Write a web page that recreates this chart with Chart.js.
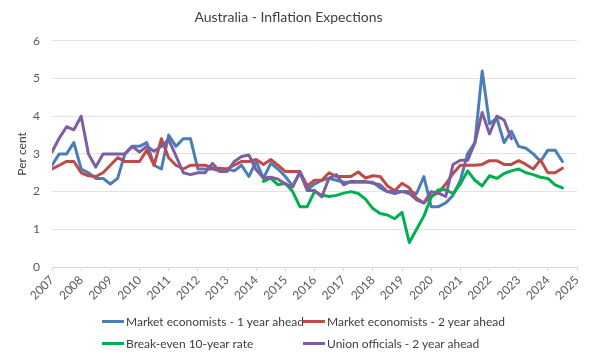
<!DOCTYPE html>
<html>
<head>
<meta charset="utf-8">
<script src="https://cdn.jsdelivr.net/npm/chart.js@4"></script>
<style>
  html, body { margin: 0; padding: 0; background: #fff; }
  #wrap { position: relative; width: 600px; height: 360px; }
  #legend { position: absolute; left: 0; top: 0; font-family: Lato, sans-serif; font-size: 12px; color: #404040; }
  .item { position: absolute; display: flex; align-items: center; white-space: nowrap; height: 16px; }
  .swatch { width: 22px; height: 3px; margin-right: 2px; }
</style>
</head>
<body>
<div id="wrap">
  <canvas id="chart" width="600" height="360"></canvas>
  <div id="legend"></div>
</div>
<script>
// ===============================
// DATA (quarterly, 2007 Q1 .. 2024 Q3)
// ===============================
const title = "Australia - Inflation Expections";
const yTitle = "Per cent";
const yearTicks = [2007, 2008, 2009, 2010, 2011, 2012, 2013, 2014, 2015, 2016,
  2017, 2018, 2019, 2020, 2021, 2022, 2023, 2024, 2025];
const yTicks = [0, 1, 2, 3, 4, 5, 6];

const seriesNames = [
  "Market economists - 1 year ahead",
  "Market economists - 2 year ahead",
  "Break-even 10-year rate",
  "Union officials - 2 year ahead"
];
const seriesColors = ["#4a7ebb", "#be4b48", "#00b050", "#7d5fa0"];

const marketOneYear = [
  2.7, 3.0, 3.0, 3.3, 2.6, 2.5, 2.35, 2.35, 2.2, 2.35,
  3.0, 3.2, 3.2, 3.3, 2.7, 2.6, 3.5, 3.2, 3.4, 3.4,
  2.6, 2.6, 2.6, 2.55, 2.6, 2.55, 2.7, 2.4, 2.8, 2.35,
  2.75, 2.6, 2.4, 2.15, 2.5, 2.05, 2.2, 2.3, 2.35, 2.3,
  2.25, 2.25, 2.25, 2.25, 2.25, 2.1, 2.0, 1.95, 2.0, 2.0,
  1.95, 2.4, 1.6, 1.6, 1.7, 1.9, 2.3, 3.0, 3.3, 5.2,
  3.8, 3.95, 3.3, 3.6, 3.2, 3.15, 3.0, 2.8, 3.1, 3.1,
  2.8
];
const marketTwoYear = [
  2.6, 2.7, 2.8, 2.8, 2.5, 2.42, 2.4, 2.5, 2.7, 2.9,
  2.8, 2.8, 2.8, 3.1, 2.7, 3.4, 2.9, 2.7, 2.6, 2.7,
  2.7, 2.7, 2.62, 2.62, 2.6, 2.7, 2.8, 2.8, 2.85, 2.72,
  2.85, 2.7, 2.53, 2.53, 2.53, 2.15, 2.3, 2.3, 2.5, 2.4,
  2.4, 2.4, 2.52, 2.36, 2.42, 2.4, 2.15, 2.02, 2.22, 2.1,
  1.82, 1.7, 1.88, 1.97, 2.2, 2.48, 2.7, 2.7, 2.7, 2.72,
  2.82, 2.82, 2.72, 2.72, 2.82, 2.72, 2.6, 2.84, 2.5, 2.5,
  2.62
];
const breakEven = [
  null, null, null, null, null, null, null, null, null, null,
  null, null, null, null, null, null, null, null, null, null,
  null, null, null, null, null, null, null, null, null, 2.27,
  2.36, 2.18, 2.22, 2.0, 1.6, 1.6, 2.0, 1.91, 1.87, 1.9,
  1.96, 2.0, 1.95, 1.8, 1.55, 1.42, 1.38, 1.28, 1.45, 0.65,
  1.0, 1.35, 1.85, 2.05, 2.05, 1.95, 2.2, 2.55, 2.3, 2.15,
  2.42, 2.35, 2.48, 2.55, 2.6, 2.5, 2.45, 2.38, 2.35, 2.18,
  2.1
];
const unionTwoYear = [
  3.05, 3.42, 3.72, 3.64, 4.0, 3.0, 2.65, 3.0, 3.0, 3.0,
  3.0, 3.2, 3.05, 3.2, 3.07, 3.2, 3.38, 2.95, 2.5, 2.45,
  2.5, 2.5, 2.75, 2.53, 2.53, 2.8, 2.93, 2.97, 2.58, 2.36,
  2.38, 2.33, 2.2, 2.12, 2.53, 2.03, 2.03, 1.86, 2.36, 2.45,
  2.18, 2.27, 2.27, 2.27, 2.22, 2.18, 2.0, 2.0, 2.0, 1.95,
  1.78, 1.7, 2.0, 1.96, 1.87, 2.72, 2.83, 2.83, 3.3, 4.1,
  3.53, 4.0, 3.9, 3.4, null, null, null, null, null, null,
  null
];

// quarter positions on the year axis
const quarters = marketOneYear.map((_, i) => yearTicks[0] + i / 4);

// ===============================
// HELPERS
// ===============================
const FONT = "Lato, 'Open Sans', sans-serif";

function toPoints(values) {
  return values.map((v, i) => ({ x: quarters[i], y: v }));
}

function buildLegend() {
  const box = document.getElementById("legend");
  const spots = [[102, 313], [303, 313], [102, 335], [303, 335]];
  seriesNames.forEach((name, i) => {
    const div = document.createElement("div");
    div.className = "item";
    div.style.left = spots[i][0] + "px";
    div.style.top = spots[i][1] + "px";
    div.innerHTML = `<span class="swatch" style="background:${seriesColors[i]}"></span><span>${name}</span>`;
    box.appendChild(div);
  });
}

// ===============================
// CHART
// ===============================
const allSeries = [marketOneYear, marketTwoYear, breakEven, unionTwoYear];

new Chart(document.getElementById("chart"), {
  type: "line",
  data: {
    datasets: allSeries.map((vals, i) => ({
      label: seriesNames[i],
      data: toPoints(vals),
      borderColor: seriesColors[i],
      backgroundColor: seriesColors[i],
      borderWidth: 3,
      pointRadius: 0,
      tension: 0,
      spanGaps: false,
      borderJoinStyle: "round",
      borderCapStyle: "round",
      order: allSeries.length - i
    }))
  },
  options: {
    responsive: false,
    animation: false,
    layout: { padding: { left: 0, right: 23, top: 0, bottom: 47 } },
    plugins: {
      legend: { display: false },
      tooltip: { enabled: false },
      title: {
        display: true,
        text: title,
        color: "#404040",
        font: { family: FONT, size: 14, weight: "normal" },
        padding: { top: 9, bottom: 15 }
      }
    },
    scales: {
      x: {
        type: "linear",
        min: yearTicks[0],
        max: yearTicks[yearTicks.length - 1],
        afterBuildTicks: s => { s.ticks = yearTicks.map(v => ({ value: v })); },
        afterFit: s => { s.height = 46; },
        ticks: {
          autoSkip: false,
          minRotation: 45,
          maxRotation: 45,
          padding: 2,
          color: "#595959",
          font: { family: FONT, size: 12 },
          callback: v => String(v)
        },
        grid: { drawOnChartArea: false, drawTicks: true, tickLength: 4, color: "#d9d9d9" },
        border: { display: true, color: "#d9d9d9" }
      },
      y: {
        min: yTicks[0],
        max: yTicks[yTicks.length - 1],
        afterBuildTicks: s => { s.ticks = yTicks.map(v => ({ value: v })); },
        afterFit: s => { s.width = 52; },
        ticks: {
          padding: 12,
          color: "#595959",
          font: { family: FONT, size: 12 }
        },
        grid: { color: "#e3e3e3", drawTicks: false },
        border: { display: false },
        title: {
          display: true,
          text: yTitle,
          color: "#404040",
          font: { family: FONT, size: 12 },
          padding: { top: 15, bottom: 0 }
        }
      }
    }
  }
});

buildLegend();
</script>
</body>
</html>
